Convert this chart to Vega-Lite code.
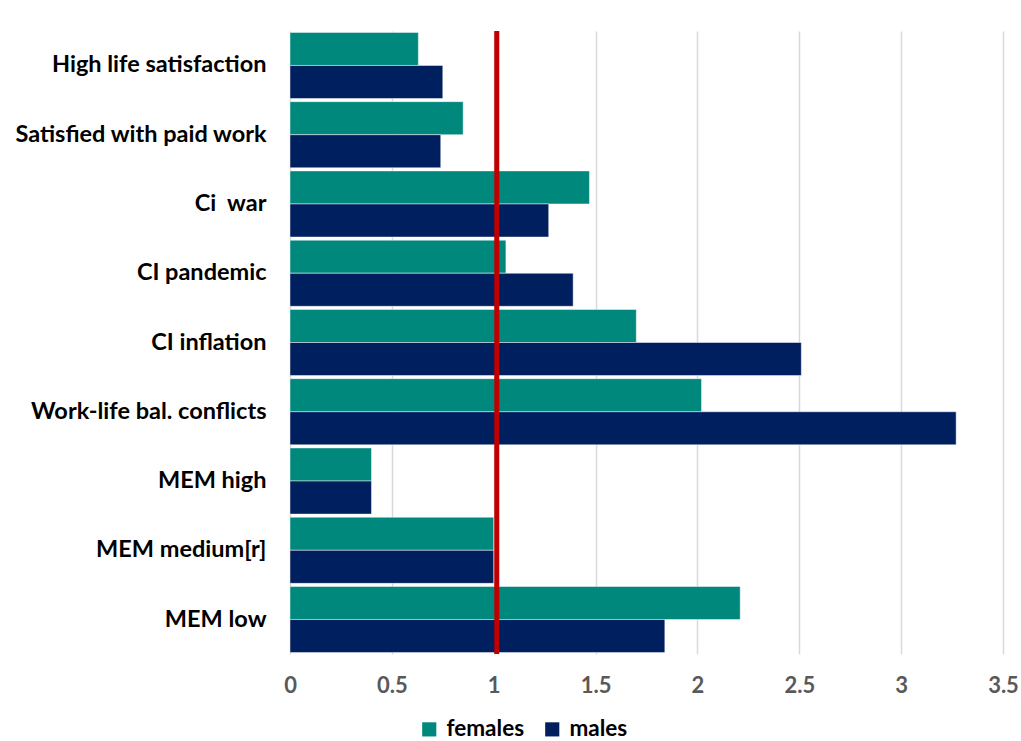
{
  "$schema": "https://vega.github.io/schema/vega-lite/v6.json",
  "width": 713,
  "height": 623,
  "autosize": "none",
  "padding": {"left": 290, "top": 31, "right": 18, "bottom": 87},
  "background": "white",
  "config": {
    "view": {"stroke": null},
    "font": "Lato"
  },
  "datasets": {
    "bars": [
      {"item": "High life satisfaction", "sex": "females", "value": 0.63},
      {"item": "High life satisfaction", "sex": "males", "value": 0.75},
      {"item": "Satisfied with paid work", "sex": "females", "value": 0.85},
      {"item": "Satisfied with paid work", "sex": "males", "value": 0.74},
      {"item": "Ci\u00a0 war", "sex": "females", "value": 1.47},
      {"item": "Ci\u00a0 war", "sex": "males", "value": 1.27},
      {"item": "CI pandemic", "sex": "females", "value": 1.06},
      {"item": "CI pandemic", "sex": "males", "value": 1.39},
      {"item": "CI inflation", "sex": "females", "value": 1.70},
      {"item": "CI inflation", "sex": "males", "value": 2.51},
      {"item": "Work-life bal. conflicts", "sex": "females", "value": 2.02},
      {"item": "Work-life bal. conflicts", "sex": "males", "value": 3.27},
      {"item": "MEM high", "sex": "females", "value": 0.40},
      {"item": "MEM high", "sex": "males", "value": 0.40},
      {"item": "MEM medium[r]", "sex": "females", "value": 1.0},
      {"item": "MEM medium[r]", "sex": "males", "value": 1.0},
      {"item": "MEM low", "sex": "females", "value": 2.21},
      {"item": "MEM low", "sex": "males", "value": 1.84}
    ],
    "ref": [{"x": 1.015}]
  },
  "layer": [
    {
      "data": {"name": "bars"},
      "mark": {"type": "bar", "stroke": "white", "strokeWidth": 0.8, "strokeOpacity": 0.6},
      "encoding": {
        "y": {
          "field": "item",
          "type": "nominal",
          "sort": null,
          "scale": {"paddingInner": 0.045, "paddingOuter": 0.02},
          "axis": {
            "title": null,
            "domain": false,
            "ticks": false,
            "labelFontSize": 23.5,
            "labelFontWeight": "bold",
            "labelColor": "#000000",
            "labelPadding": 24,
            "labelLimit": 300
          }
        },
        "yOffset": {
          "field": "sex",
          "type": "nominal",
          "scale": {"paddingInner": 0, "paddingOuter": 0}
        },
        "x": {
          "field": "value",
          "type": "quantitative",
          "scale": {"domain": [0, 3.5], "nice": false},
          "axis": {
            "title": null,
            "values": [0, 0.5, 1, 1.5, 2, 2.5, 3, 3.5],
            "labelExpr": "'' + datum.value",
            "domain": false,
            "ticks": false,
            "grid": true,
            "gridColor": "#d9d9d9",
            "gridWidth": 1.5,
            "labelFontSize": 22,
            "labelFontWeight": "bold",
            "labelColor": "#595959",
            "labelPadding": 21,
            "labelFlush": false
          }
        },
        "color": {
          "field": "sex",
          "type": "nominal",
          "scale": {"domain": ["females", "males"], "range": ["#00887c", "#001f5f"]},
          "legend": {
            "title": null,
            "orient": "none",
            "direction": "horizontal",
            "legendX": 128,
            "legendY": 687,
            "symbolType": "square",
            "symbolSize": 200,
            "symbolStrokeWidth": 0,
            "labelFontSize": 22.5,
            "labelFontWeight": "bold",
            "labelColor": "#000000",
            "columnPadding": 16,
            "labelOffset": 6
          }
        }
      }
    },
    {
      "data": {"name": "ref"},
      "mark": {"type": "rule", "color": "#c00000", "strokeWidth": 5},
      "encoding": {
        "x": {"field": "x", "type": "quantitative"}
      }
    }
  ]
}
